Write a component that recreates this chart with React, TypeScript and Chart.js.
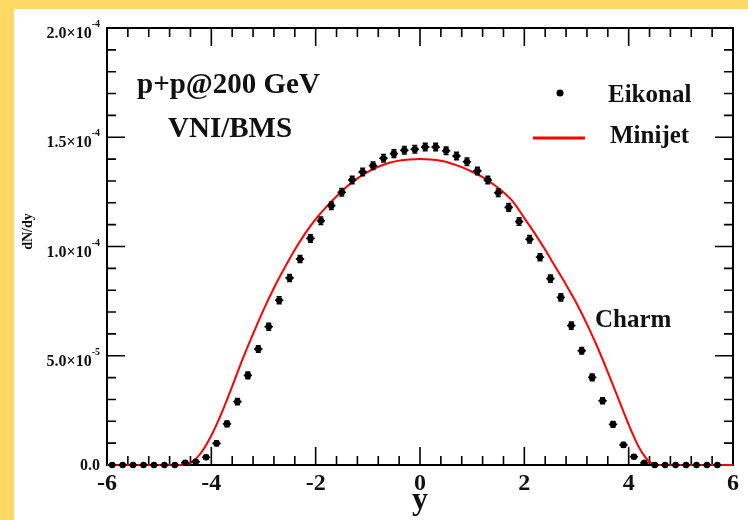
import { useEffect, useRef } from "react";
import { Chart, registerables } from "chart.js";
Chart.register(...registerables);

// ---- data ----
const rapidity = [
  -5.9, -5.7, -5.5, -5.3, -5.1, -4.9, -4.7, -4.5, -4.3, -4.1, -3.9, -3.7, -3.5, -3.3, -3.1,
  -2.9, -2.7, -2.5, -2.3, -2.1, -1.9, -1.7, -1.5, -1.3, -1.1, -0.9, -0.7, -0.5, -0.3, -0.1,
  0.1, 0.3, 0.5, 0.7, 0.9, 1.1, 1.3, 1.5, 1.7, 1.9, 2.1, 2.3, 2.5, 2.7, 2.9,
  3.1, 3.3, 3.5, 3.7, 3.9, 4.1, 4.3, 4.5, 4.7, 4.9, 5.1, 5.3, 5.5, 5.7,
];
const eikonal = [
  0, 0, 0, 0, 0, 0, 0, 1.0e-6, 1.5e-6, 3.5e-6, 9.9e-6, 1.88e-5, 2.9e-5, 4.1e-5, 5.31e-5,
  6.33e-5, 7.54e-5, 8.56e-5, 9.43e-5, 1.037e-4, 1.118e-4, 1.187e-4, 1.248e-4, 1.304e-4, 1.341e-4, 1.37e-4, 1.404e-4, 1.425e-4, 1.44e-4, 1.445e-4,
  1.455e-4, 1.455e-4, 1.438e-4, 1.414e-4, 1.388e-4, 1.346e-4, 1.304e-4, 1.246e-4, 1.179e-4, 1.114e-4, 1.033e-4, 9.51e-5, 8.53e-5, 7.67e-5, 6.38e-5,
  5.23e-5, 4.01e-5, 2.94e-5, 1.86e-5, 9.2e-6, 3.8e-6, 1.0e-6, 0, 0, 0, 0, 0, 0, 0,
];
const eikonalErr = [
  0, 0, 0, 0, 0, 0, 0, 4e-7, 5e-7, 8e-7, 1.1e-6, 1.3e-6, 1.4e-6, 1.5e-6, 1.5e-6,
  1.6e-6, 1.6e-6, 1.6e-6, 1.6e-6, 1.7e-6, 1.7e-6, 1.7e-6, 1.7e-6, 1.7e-6, 1.7e-6, 1.7e-6, 1.7e-6, 1.7e-6, 1.7e-6, 1.7e-6,
  1.7e-6, 1.7e-6, 1.7e-6, 1.7e-6, 1.7e-6, 1.7e-6, 1.7e-6, 1.7e-6, 1.7e-6, 1.7e-6, 1.7e-6, 1.6e-6, 1.6e-6, 1.6e-6, 1.6e-6,
  1.5e-6, 1.5e-6, 1.4e-6, 1.3e-6, 1.1e-6, 8e-7, 4e-7, 0, 0, 0, 0, 0, 0, 0,
];
const binHalfWidth = 0.1;

const minijetX = [
  -6.0, -5.8, -5.6, -5.4, -5.2, -5.0, -4.8, -4.6, -4.4, -4.2, -4.0, -3.8, -3.6, -3.4, -3.2, -3.0,
  -2.8, -2.6, -2.4, -2.2, -2.0, -1.8, -1.6, -1.4, -1.2, -1.0, -0.8, -0.6, -0.4, -0.2, 0,
  0.2, 0.4, 0.6, 0.8, 1.0, 1.2, 1.4, 1.6, 1.8, 2.0, 2.2, 2.4, 2.6, 2.8, 3.0,
  3.2, 3.4, 3.6, 3.8, 4.0, 4.2, 4.4, 4.6, 4.8, 5.0, 5.2, 5.4, 5.6, 5.8, 6.0,
];
const minijet = [
  0, 0, 0, 0, 0, 0, 0, 0, 1.0e-6, 5.5e-6, 1.35e-5, 2.4e-5, 3.6e-5, 4.85e-5, 6.0e-5, 7.1e-5,
  8.1e-5, 9.0e-5, 9.85e-5, 1.06e-4, 1.125e-4, 1.18e-4, 1.23e-4, 1.275e-4, 1.312e-4, 1.342e-4, 1.365e-4, 1.382e-4, 1.393e-4, 1.398e-4, 1.4e-4,
  1.398e-4, 1.392e-4, 1.38e-4, 1.363e-4, 1.342e-4, 1.317e-4, 1.286e-4, 1.248e-4, 1.2e-4, 1.13e-4, 1.06e-4, 9.85e-5, 9.05e-5, 8.25e-5, 7.4e-5,
  6.45e-5, 5.4e-5, 4.25e-5, 3.05e-5, 1.85e-5, 8.0e-6, 1.5e-6, 0, 0, 0, 0, 0, 0, 0, 0,
];

const xMajorTicks = [-6, -4, -2, 0, 2, 4, 6];
const xMinorTicks = [
  -5.6, -5.2, -4.8, -4.4, -3.6, -3.2, -2.8, -2.4, -1.6, -1.2, -0.8, -0.4,
  0.4, 0.8, 1.2, 1.6, 2.4, 2.8, 3.2, 3.6, 4.4, 4.8, 5.2, 5.6,
];
const yMajorTicks = [0, 5e-5, 1e-4, 1.5e-4, 2e-4];
const yTickMantissa = ["0.0", "5.0×10", "1.0×10", "1.5×10", "2.0×10"];
const yTickExponent = ["", "-5", "-4", "-4", "-4"];
const yMinorTicks = [
  1e-5, 2e-5, 3e-5, 4e-5, 6e-5, 7e-5, 8e-5, 9e-5,
  1.1e-4, 1.2e-4, 1.3e-4, 1.4e-4, 1.6e-4, 1.7e-4, 1.8e-4, 1.9e-4,
];

const xTitle = "y";
const yTitle = "dN/dy";
const infoLines = ["p+p@200 GeV", "VNI/BMS"];
const seriesNames = ["Eikonal", "Minijet"];
const particleLabel = "Charm";

const SERIF = "'Liberation Serif', 'Times New Roman', serif";
const INK = "#111";

const decorPlugin = {
  id: "decor",
  beforeDatasetsDraw(chart: any) {
    const { ctx, chartArea: a, scales } = chart;
    const xs = scales.x, ys = scales.y;
    ctx.save();
    ctx.strokeStyle = "#000";
    ctx.lineWidth = 2;
    ctx.strokeRect(a.left, a.top, a.right - a.left, a.bottom - a.top);
    ctx.lineWidth = 1.6;
    const major = 18, minor = 9;
    const hTick = (v: number, len: number) => {
      const px = xs.getPixelForValue(v);
      ctx.beginPath();
      ctx.moveTo(px, a.bottom); ctx.lineTo(px, a.bottom - len);
      ctx.moveTo(px, a.top); ctx.lineTo(px, a.top + len);
      ctx.stroke();
    };
    const vTick = (v: number, len: number) => {
      const py = ys.getPixelForValue(v);
      ctx.beginPath();
      ctx.moveTo(a.left, py); ctx.lineTo(a.left + len, py);
      ctx.moveTo(a.right, py); ctx.lineTo(a.right - len, py);
      ctx.stroke();
    };
    xMajorTicks.forEach((v) => hTick(v, major));
    xMinorTicks.forEach((v) => hTick(v, minor));
    yMajorTicks.forEach((v) => vTick(v, major));
    yMinorTicks.forEach((v) => vTick(v, minor));
    ctx.restore();
  },
  afterDatasetsDraw(chart: any) {
    const { ctx, chartArea: a, scales } = chart;
    const xs = scales.x, ys = scales.y;
    ctx.save();
    // error bars
    ctx.strokeStyle = "#000";
    ctx.lineWidth = 1.6;
    rapidity.forEach((r, i) => {
      const px = xs.getPixelForValue(r);
      const py = ys.getPixelForValue(eikonal[i]);
      ctx.beginPath();
      ctx.moveTo(xs.getPixelForValue(r - binHalfWidth) + 1, py);
      ctx.lineTo(xs.getPixelForValue(r + binHalfWidth) - 1, py);
      ctx.stroke();
      if (eikonalErr[i] > 0) {
        const y1 = ys.getPixelForValue(eikonal[i] + eikonalErr[i]);
        const y2 = ys.getPixelForValue(eikonal[i] - eikonalErr[i]);
        ctx.beginPath();
        ctx.moveTo(px, y1); ctx.lineTo(px, y2);
        ctx.moveTo(px - 2.5, y1); ctx.lineTo(px + 2.5, y1);
        ctx.moveTo(px - 2.5, y2); ctx.lineTo(px + 2.5, y2);
        ctx.stroke();
      }
    });

    ctx.fillStyle = INK;
    // y tick labels with exponent
    yMajorTicks.forEach((v, i) => {
      const py = ys.getPixelForValue(v);
      const right = a.left - 7;
      ctx.textAlign = "right";
      ctx.textBaseline = "alphabetic";
      if (yTickExponent[i]) {
        ctx.font = `bold 10px ${SERIF}`;
        const ew = ctx.measureText(yTickExponent[i]).width;
        ctx.fillText(yTickExponent[i], right, py - 1);
        ctx.font = `bold 16px ${SERIF}`;
        ctx.fillText(yTickMantissa[i], right - ew, py + 10);
      } else {
        ctx.font = `bold 16px ${SERIF}`;
        ctx.fillText(yTickMantissa[i], right, py + 5);
      }
    });

    // axis titles
    ctx.textAlign = "center";
    ctx.textBaseline = "alphabetic";
    ctx.font = `bold 32px ${SERIF}`;
    ctx.fillText(xTitle, xs.getPixelForValue(0), 500);
    ctx.save();
    ctx.translate(18, (a.top + a.bottom) / 2 - 15);
    ctx.rotate(-Math.PI / 2);
    ctx.font = `bold 14px ${SERIF}`;
    ctx.fillText(yTitle, 0, 0);
    ctx.restore();

    // annotations
    ctx.textAlign = "left";
    ctx.font = `bold 29px ${SERIF}`;
    ctx.fillText(infoLines[0], a.left + 30, a.top + 65);
    ctx.fillText(infoLines[1], a.left + 61, a.top + 109);

    // legend
    ctx.font = `bold 25px ${SERIF}`;
    ctx.fillText(seriesNames[0], a.left + 501, a.top + 74);
    ctx.fillText(seriesNames[1], a.left + 503, a.top + 115);
    ctx.beginPath();
    ctx.fillStyle = "#000";
    ctx.arc(a.left + 453, a.top + 65, 3.5, 0, Math.PI * 2);
    ctx.fill();
    ctx.strokeStyle = "#ff0000";
    ctx.lineWidth = 3;
    ctx.beginPath();
    ctx.moveTo(a.left + 426, a.top + 110);
    ctx.lineTo(a.left + 478, a.top + 110);
    ctx.stroke();
    ctx.fillStyle = INK;
    ctx.fillText(particleLabel, a.left + 488, a.top + 299);
    ctx.restore();
  },
};

export default function App() {
  const ref = useRef<HTMLCanvasElement>(null);
  useEffect(() => {
    const prevMargin = document.body.style.margin;
    document.body.style.margin = "0";
    const chart = new Chart(ref.current as HTMLCanvasElement, {
      type: "scatter",
      data: {
        datasets: [
          {
            label: seriesNames[0],
            data: rapidity.map((x, i) => ({ x, y: eikonal[i] })),
            pointRadius: 3.3,
            pointBackgroundColor: "#000",
            pointBorderWidth: 0,
            showLine: false,
            clip: false,
          } as any,
          {
            label: seriesNames[1],
            data: minijetX.map((x, i) => ({ x, y: minijet[i] })),
            showLine: true,
            borderColor: "#ff0000",
            borderWidth: 2,
            pointRadius: 0,
            cubicInterpolationMode: "monotone",
            clip: false,
          } as any,
        ],
      },
      options: {
        responsive: false,
        devicePixelRatio: 1,
        animation: false,
        layout: { padding: { top: 19, right: 15, left: 0, bottom: 0 } },
        plugins: { legend: { display: false }, tooltip: { enabled: false } },
        scales: {
          x: {
            type: "linear",
            min: -6,
            max: 6,
            grid: { display: false, drawTicks: false },
            border: { display: false },
            ticks: {
              color: INK,
              font: { family: SERIF, weight: "bold", size: 24 },
              padding: 4,
              maxRotation: 0,
              autoSkip: false,
            },
            afterBuildTicks: (s: any) => {
              s.ticks = xMajorTicks.map((v) => ({ value: v }));
            },
            afterFit: (s: any) => {
              s.height = 55;
            },
          },
          y: {
            type: "linear",
            min: 0,
            max: 2e-4,
            grid: { display: false, drawTicks: false },
            border: { display: false },
            ticks: { display: false },
            afterBuildTicks: (s: any) => {
              s.ticks = yMajorTicks.map((v) => ({ value: v }));
            },
            afterFit: (s: any) => {
              s.width = 93;
            },
          },
        },
      } as any,
      plugins: [decorPlugin],
    });
    return () => {
      chart.destroy();
      document.body.style.margin = prevMargin;
    };
  }, []);
  return (
    <div style={{ position: "relative", width: 748, height: 520, background: "#FFD966", overflow: "hidden" }}>
      <canvas
        ref={ref}
        width={734}
        height={511}
        style={{ position: "absolute", left: 14, top: 9, width: 734, height: 511, background: "#fff" }}
      />
    </div>
  );
}
